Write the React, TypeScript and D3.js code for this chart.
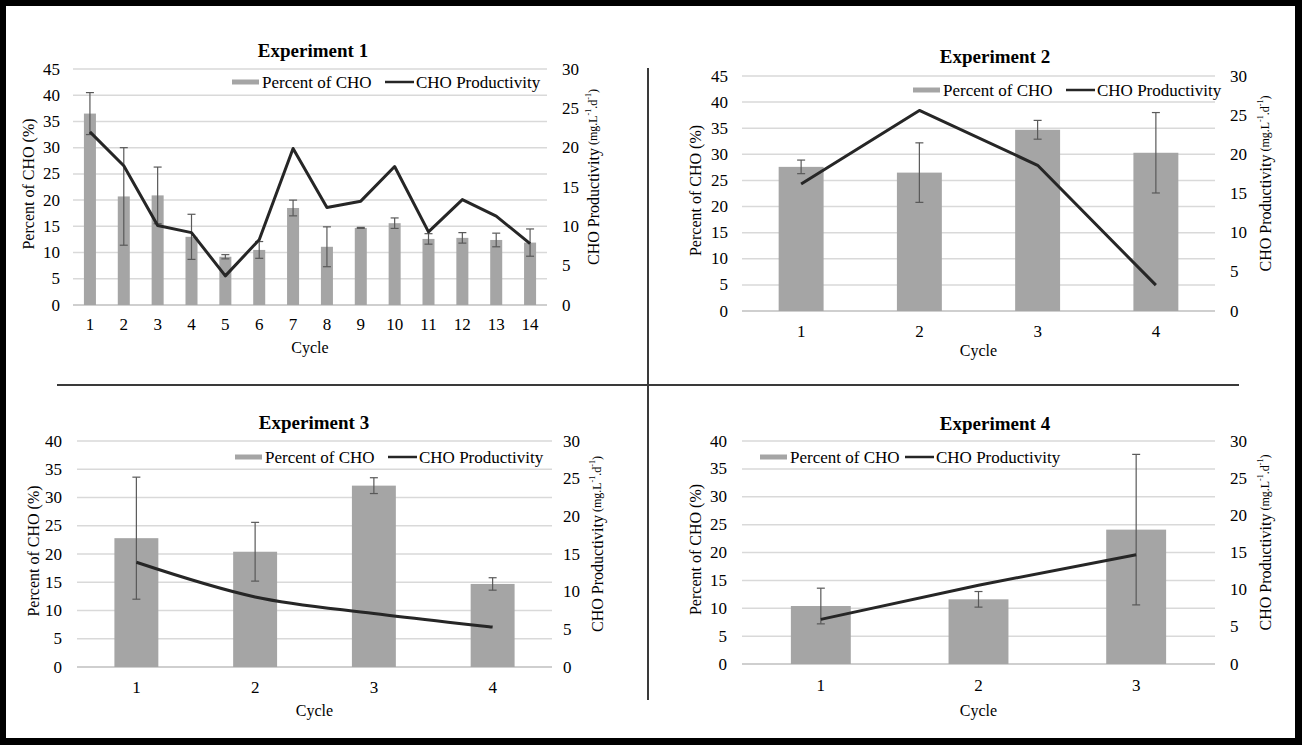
import * as d3 from "d3";

const FONT = "Liberation Serif, Times New Roman, serif";
const BAR = "#a5a5a5";
const LINE = "#262626";
const GRID = "#d9d9d9";
const ERR = "#595959";

// Experiment 1
const exp1Cycles = ["1", "2", "3", "4", "5", "6", "7", "8", "9", "10", "11", "12", "13", "14"];
const exp1Percent = [36.5, 20.7, 20.9, 13.0, 9.2, 10.5, 18.5, 11.1, 14.7, 15.6, 12.6, 12.8, 12.4, 11.9];
const exp1Err = [4.0, 9.3, 5.4, 4.3, 0.4, 1.6, 1.5, 3.8, 0.1, 1.0, 1.0, 1.0, 1.3, 2.6];
const exp1Prod = [22.0, 17.7, 10.1, 9.2, 3.7, 8.3, 19.9, 12.4, 13.2, 17.6, 9.3, 13.4, 11.3, 7.8];

// Experiment 2
const exp2Cycles = ["1", "2", "3", "4"];
const exp2Percent = [27.6, 26.5, 34.7, 30.3];
const exp2Err = [1.3, 5.7, 1.8, 7.7];
const exp2Prod = [16.2, 25.6, 18.6, 3.3];

// Experiment 3
const exp3Cycles = ["1", "2", "3", "4"];
const exp3Percent = [22.8, 20.4, 32.1, 14.7];
const exp3Err = [10.8, 5.2, 1.4, 1.1];
const exp3Prod = [13.9, 9.3, 7.1, 5.3];

// Experiment 4
const exp4Cycles = ["1", "2", "3"];
const exp4Percent = [10.4, 11.6, 24.1];
const exp4Err = [3.2, 1.4, 13.5];
const exp4Prod = [6.0, 10.6, 14.7];

interface PanelProps {
  title: string;
  cats: string[];
  pct: number[];
  err: number[];
  prod: number[];
  leftMax: number;
  x0: number;
  x1: number;
  y0: number;
  y1: number;
  titleX: number;
  titleY: number;
  legX: number;
  legLineX: number;
  legY: number;
  leftTickX: number;
  rightTickX: number;
  leftTitleX: number;
  rightTitleX: number;
  xLabelY: number;
  cycleY: number;
  barRatio: number;
  smooth?: boolean;
}

function Panel(p: PanelProps) {
  const x = d3.scaleBand<string>().domain(p.cats).range([p.x0, p.x1]).padding(0);
  const yL = d3.scaleLinear().domain([0, p.leftMax]).range([p.y1, p.y0]);
  const yR = d3.scaleLinear().domain([0, 30]).range([p.y1, p.y0]);
  const leftTicks = d3.range(0, p.leftMax + 1, 5);
  const rightTicks = d3.range(0, 31, 5);
  const bw = x.bandwidth() * p.barRatio;
  const cx = (c: string) => (x(c) ?? 0) + x.bandwidth() / 2;

  const line = d3
    .line<number>()
    .x((_, i) => cx(p.cats[i]))
    .y((d) => yR(d))
    .curve(p.smooth ? d3.curveCatmullRom.alpha(0.5) : d3.curveLinear);

  const midY = (p.y0 + p.y1) / 2;

  return (
    <g style={{ fontFamily: FONT }}>
      <text x={p.titleX} y={p.titleY} textAnchor="middle" dominantBaseline="central" fontSize={19} fontWeight="bold" fill="#000">
        {p.title}
      </text>

      {/* gridlines */}
      {leftTicks.slice(1).map((t) => (
        <line key={t} x1={p.x0} x2={p.x1} y1={yL(t)} y2={yL(t)} stroke={GRID} strokeWidth={1.5} />
      ))}
      <line x1={p.x0} x2={p.x1} y1={p.y1} y2={p.y1} stroke="#bfbfbf" strokeWidth={1.5} />

      {/* left ticks */}
      {leftTicks.map((t) => (
        <text key={t} x={p.leftTickX} y={yL(t)} textAnchor="end" dominantBaseline="central" fontSize={17} fill="#000">
          {t}
        </text>
      ))}
      {/* right ticks */}
      {rightTicks.map((t) => (
        <text key={t} x={p.rightTickX} y={yR(t)} textAnchor="start" dominantBaseline="central" fontSize={17} fill="#000">
          {t}
        </text>
      ))}

      {/* legend */}
      <rect x={p.legX} y={p.legY - 2.5} width={27} height={5} fill={BAR} />
      <text x={p.legX + 30} y={p.legY} dominantBaseline="central" fontSize={17} fill="#000">
        Percent of CHO
      </text>
      <line x1={p.legLineX} x2={p.legLineX + 29} y1={p.legY} y2={p.legY} stroke={LINE} strokeWidth={2.5} />
      <text x={p.legLineX + 31} y={p.legY} dominantBaseline="central" fontSize={17} fill="#000">
        CHO Productivity
      </text>

      {/* bars */}
      {p.pct.map((v, i) => (
        <rect key={i} x={cx(p.cats[i]) - bw / 2} y={yL(v)} width={bw} height={p.y1 - yL(v)} fill={BAR} />
      ))}
      {/* error bars */}
      {p.pct.map((v, i) => {
        const c = cx(p.cats[i]);
        const top = yL(v + p.err[i]);
        const bot = yL(v - p.err[i]);
        return (
          <g key={i} stroke={ERR} strokeWidth={1.2}>
            <line x1={c} x2={c} y1={top} y2={bot} />
            <line x1={c - 4} x2={c + 4} y1={top} y2={top} />
            <line x1={c - 4} x2={c + 4} y1={bot} y2={bot} />
          </g>
        );
      })}

      {/* productivity line */}
      <path d={line(p.prod) ?? ""} fill="none" stroke={LINE} strokeWidth={3} strokeLinejoin="round" />

      {/* x labels */}
      {p.cats.map((c) => (
        <text key={c} x={cx(c)} y={p.xLabelY} textAnchor="middle" dominantBaseline="central" fontSize={17} fill="#000">
          {c}
        </text>
      ))}
      <text x={(p.x0 + p.x1) / 2} y={p.cycleY} textAnchor="middle" dominantBaseline="central" fontSize={16} fill="#000">
        Cycle
      </text>

      {/* axis titles */}
      <text
        transform={`translate(${p.leftTitleX},${midY - 3}) rotate(-90)`}
        textAnchor="middle"
        dominantBaseline="central"
        fontSize={16}
        fill="#000"
      >
        Percent of CHO (%)
      </text>
      <text
        transform={`translate(${p.rightTitleX},${midY - 10}) rotate(-90)`}
        textAnchor="middle"
        dominantBaseline="central"
        fontSize={16}
        fill="#000"
      >
        <tspan>CHO Productivity</tspan>
        <tspan fontSize={12}>{"  (mg.L"}</tspan>
        <tspan fontSize={8} dy={-5}>-1</tspan>
        <tspan fontSize={12} dy={5}>.d</tspan>
        <tspan fontSize={8} dy={-5}>-1</tspan>
        <tspan fontSize={12} dy={5}>)</tspan>
      </text>
    </g>
  );
}

export default function App() {
  const W = 1302;
  const H = 745;
  return (
    <svg width={W} height={H} style={{ position: "absolute", left: 0, top: 0 }}>
      <rect x={0} y={0} width={W} height={H} fill="#000" />
      <rect x={6} y={6} width={W - 13} height={H - 13} fill="#fff" />

      <Panel
        title="Experiment 1"
        cats={exp1Cycles}
        pct={exp1Percent}
        err={exp1Err}
        prod={exp1Prod}
        leftMax={45}
        x0={73}
        x1={547}
        y0={69}
        y1={305}
        titleX={313}
        titleY={50}
        legX={232}
        legLineX={385}
        legY={82}
        leftTickX={60}
        rightTickX={562}
        leftTitleX={28}
        rightTitleX={593}
        xLabelY={324}
        cycleY={347}
        barRatio={0.355}
      />
      <Panel
        title="Experiment 2"
        cats={exp2Cycles}
        pct={exp2Percent}
        err={exp2Err}
        prod={exp2Prod}
        leftMax={45}
        x0={742}
        x1={1215}
        y0={76}
        y1={311}
        titleX={995}
        titleY={56}
        legX={913}
        legLineX={1066}
        legY={90}
        leftTickX={728}
        rightTickX={1230}
        leftTitleX={695}
        rightTitleX={1265}
        xLabelY={331}
        cycleY={350}
        barRatio={0.38}
      />
      <Panel
        title="Experiment 3"
        cats={exp3Cycles}
        pct={exp3Percent}
        err={exp3Err}
        prod={exp3Prod}
        leftMax={40}
        x0={77}
        x1={552}
        y0={441}
        y1={667}
        titleX={314}
        titleY={422}
        legX={235}
        legLineX={388}
        legY={457}
        leftTickX={62}
        rightTickX={563}
        leftTitleX={33}
        rightTitleX={597}
        xLabelY={687}
        cycleY={710}
        barRatio={0.37}
        smooth
      />
      <Panel
        title="Experiment 4"
        cats={exp4Cycles}
        pct={exp4Percent}
        err={exp4Err}
        prod={exp4Prod}
        leftMax={40}
        x0={742}
        x1={1215}
        y0={441}
        y1={664}
        titleX={995}
        titleY={423}
        legX={760}
        legLineX={905}
        legY={457}
        leftTickX={727}
        rightTickX={1230}
        leftTitleX={695}
        rightTitleX={1265}
        xLabelY={685}
        cycleY={710}
        barRatio={0.38}
      />

      {/* quadrant dividers */}
      <line x1={57} x2={1239} y1={385} y2={385} stroke="#3a3a3a" strokeWidth={2} />
      <line x1={648} x2={648} y1={68} y2={700} stroke="#3a3a3a" strokeWidth={2} />
    </svg>
  );
}
